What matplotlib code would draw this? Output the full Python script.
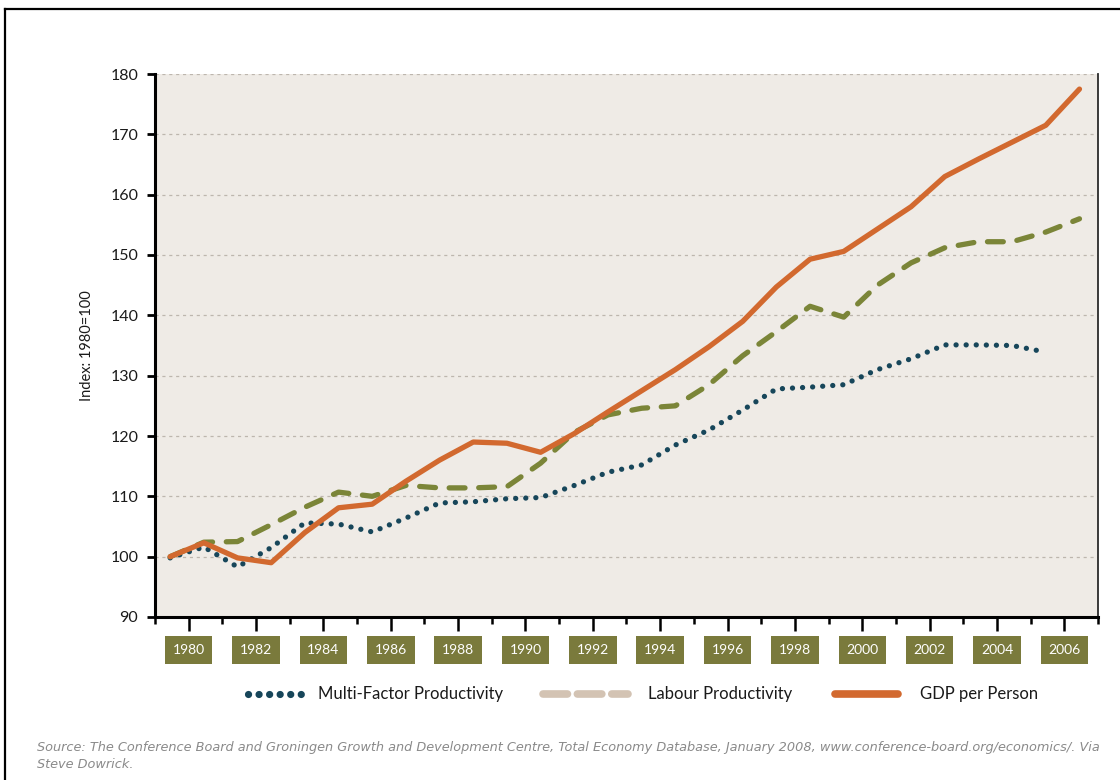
import matplotlib
matplotlib.use("Agg")
import matplotlib.pyplot as plt
from matplotlib.lines import Line2D
import numpy as np

# ---------------- data ----------------
years = list(range(1980, 2008))
gdp_per_person = [100.0, 102.3, 99.8, 99.0, 104.0, 108.1, 108.7, 112.5, 116.0, 119.0,
                  118.8, 117.3, 120.4, 124.0, 127.5, 131.0, 134.8, 139.0, 144.7, 149.3,
                  150.6, 154.3, 158.0, 163.0, 165.9, 168.7, 171.5, 177.5]
labour_productivity = [100.0, 102.4, 102.5, 105.3, 108.2, 110.7, 110.0, 111.8, 111.4, 111.4,
                       111.6, 115.5, 120.6, 123.5, 124.6, 125.0, 128.5, 133.3, 137.3, 141.5,
                       139.7, 145.0, 148.7, 151.2, 152.2, 152.2, 153.8, 156.0]
mfp_years = list(range(1980, 2007))
multi_factor_productivity = [99.8, 101.6, 98.3, 101.5, 105.6, 105.4, 104.1, 106.4, 108.9, 109.1,
                             109.6, 109.8, 111.8, 114.0, 115.2, 118.5, 121.0, 124.3, 127.8, 128.1,
                             128.5, 131.0, 132.8, 135.1, 135.1, 135.0, 133.9]
tick_years = list(range(1979, 2008))
label_years = list(range(1980, 2007, 2))
y_ticks = list(range(90, 181, 10))

# ---------------- style ----------------
C_GDP = "#D2692F"
C_LAB = "#7B8538"
C_MFP = "#17465A"
C_LAB_LEG = "#D3C3B3"
C_BOX = "#7A7A3C"
BG = "#EFEBE6"
FONT = ["Lato", "DejaVu Sans"]
plt.rcParams["font.family"] = FONT

W, H = 1120, 780
fig = plt.figure(figsize=(W / 100, H / 100), dpi=100)
fig.patch.set_facecolor("white")

ax = fig.add_axes([155 / W, 1 - 617 / H, (1098 - 155) / W, (617 - 74) / H])
ax.set_facecolor(BG)

# data plotted as the original draws it: points sit a little left of each year tick
shift = -0.55
x_all = np.array(years) + shift
x_mfp = np.array(mfp_years) + shift

ax.plot(x_mfp, multi_factor_productivity, color=C_MFP, lw=3.8,
        linestyle=(0, (0.01, 1.9)), dash_capstyle="round", zorder=3)
ax.plot(x_all, labour_productivity, color=C_LAB, lw=3.8,
        linestyle=(0, (3.0, 2.6)), dash_capstyle="round", zorder=4)
ax.plot(x_all, gdp_per_person, color=C_GDP, lw=3.8, solid_capstyle="round",
        solid_joinstyle="round", zorder=5)

ax.set_xlim(1979, 2007)
ax.set_ylim(90, 180)

# grid
for v in y_ticks[1:]:
    ax.axhline(v, color="#BDB6AE", lw=0.9, linestyle=(0, (2.5, 3)), zorder=1)

# spines
ax.spines["top"].set_visible(False)
ax.spines["left"].set_linewidth(2.2)
ax.spines["bottom"].set_linewidth(2.2)
ax.spines["left"].set_color("black")
ax.spines["bottom"].set_color("black")
ax.spines["right"].set_linewidth(1.3)
ax.spines["right"].set_color("#2a2a2a")

# y ticks
ax.set_yticks(y_ticks)
ax.set_yticklabels([str(v) for v in y_ticks])
ax.tick_params(axis="y", direction="out", length=6, width=2, color="black",
               labelsize=11.5, labelcolor="#1a1a1a", pad=6, right=False)

# x ticks: major at even years (long), minor at odd years (short)
ax.set_xticks(label_years)
ax.set_xticklabels([])
ax.set_xticks([y for y in tick_years if y not in label_years], minor=True)
ax.tick_params(axis="x", which="major", direction="out", length=10, width=1.8, color="black")
ax.tick_params(axis="x", which="minor", direction="out", length=5, width=1.8, color="black")

# boxed year labels
for yr in label_years:
    ax.text(yr, -0.061, str(yr), transform=ax.get_xaxis_transform(),
            ha="center", va="center", fontsize=10, color="white",
            bbox=dict(boxstyle="square,pad=0.55", facecolor=C_BOX, edgecolor="none"))

ax.set_ylabel("Index: 1980=100", fontsize=10.5, color="#1a1a1a", labelpad=12)

# ---------------- legend (drawn manually to match spacing) ----------------
ly = 1 - 694 / H
def fx(px):
    return px / W

fig.add_artist(Line2D([fx(248), fx(302)], [ly, ly], color=C_MFP, lw=5.2,
                      linestyle=(0, (0.01, 1.45)), dash_capstyle="round"))
fig.text(fx(318), ly, "Multi-Factor Productivity", fontsize=12, color="#1a1a1a",
         va="center", ha="left")
fig.add_artist(Line2D([fx(543), fx(628)], [ly, ly], color=C_LAB_LEG, lw=5.5,
                      linestyle=(0, (3.2, 1.3)), dash_capstyle="round"))
fig.text(fx(648), ly, "Labour Productivity", fontsize=12, color="#1a1a1a",
         va="center", ha="left")
fig.add_artist(Line2D([fx(835), fx(898)], [ly, ly], color=C_GDP, lw=5.5,
                      solid_capstyle="round"))
fig.text(fx(920), ly, "GDP per Person", fontsize=12, color="#1a1a1a",
         va="center", ha="left")

# ---------------- source ----------------
SRC_FONT = ["DejaVu Sans"]
fig.text(fx(37), 1 - 747 / H,
         "Source: The Conference Board and Groningen Growth and Development Centre, Total Economy Database, "
         "January 2008, www.conference-board.org/economics/. Via",
         fontsize=9.3, style="italic", color="#8a8a8a", va="center", ha="left", family=SRC_FONT)
fig.text(fx(37), 1 - 765 / H, "Steve Dowrick.",
         fontsize=9.3, style="italic", color="#8a8a8a", va="center", ha="left", family=SRC_FONT)

# outer frame (top and left edges visible in the reference)
fig.add_artist(Line2D([fx(5), 1.0], [1 - 9 / H, 1 - 9 / H], color="black", lw=1.6))
fig.add_artist(Line2D([fx(5), fx(5)], [0, 1 - 9 / H], color="black", lw=1.6))

fig.savefig("out.png", dpi=100, facecolor="white")
